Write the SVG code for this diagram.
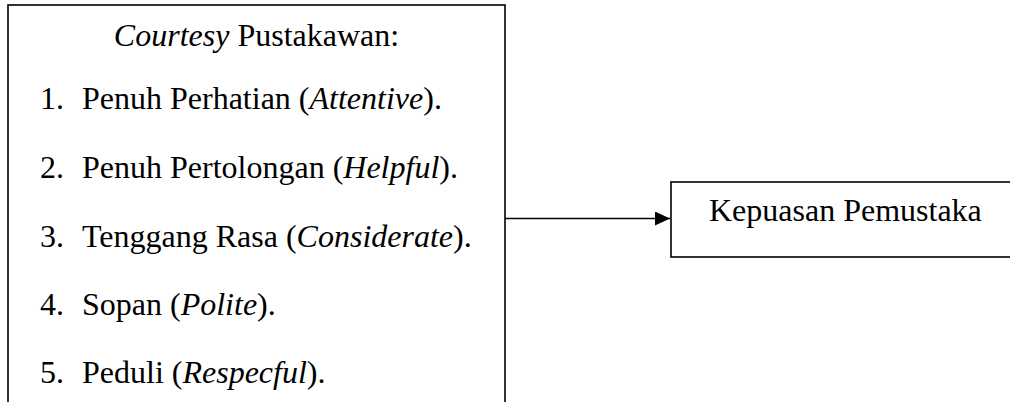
<svg xmlns="http://www.w3.org/2000/svg" width="1010" height="402" viewBox="0 0 1010 402">
<style>
.box{fill:#fff;stroke:#000;stroke-width:1.6}
.t{font-family:'Liberation Serif','Times New Roman',serif;font-size:32px;fill:#000}
.i{font-style:italic}
.conn{stroke:#000;stroke-width:1.6;fill:none}
</style>
<defs>
<marker id="arr" markerWidth="15" markerHeight="14" refX="15" refY="7" orient="auto" markerUnits="userSpaceOnUse" viewBox="0 0 15 14">
<path d="M0,0 L15,7 L0,14 Z" fill="#000"/>
</marker>
</defs>
<rect width="1010" height="402" fill="#fff"/>
<g id="courtesy">
<rect class="box" x="8" y="5" width="497" height="420"/>
<text class="t" x="256.5" y="46" text-anchor="middle"><tspan class="i">Courtesy</tspan> Pustakawan:</text>
<text class="t" x="40" y="109">1.</text><text class="t" x="82" y="109">Penuh Perhatian (<tspan class="i">Attentive</tspan>).</text>
<text class="t" x="40" y="178">2.</text><text class="t" x="82" y="178">Penuh Pertolongan (<tspan class="i">Helpful</tspan>).</text>
<text class="t" x="40" y="247">3.</text><text class="t" x="82" y="247">Tenggang Rasa (<tspan class="i">Considerate</tspan>).</text>
<text class="t" x="40" y="315">4.</text><text class="t" x="82" y="315">Sopan (<tspan class="i">Polite</tspan>).</text>
<text class="t" x="40" y="383">5.</text><text class="t" x="82" y="383">Peduli (<tspan class="i">Respecful</tspan>).</text>
</g>
<g id="kepuasan">
<rect class="box" x="671" y="182" width="360" height="75"/>
<text class="t" x="709" y="221">Kepuasan Pemustaka</text>
</g>
<g id="connectors">
<line class="conn" x1="505" y1="218.5" x2="670" y2="218.5" marker-end="url(#arr)"/>
</g>
</svg>
